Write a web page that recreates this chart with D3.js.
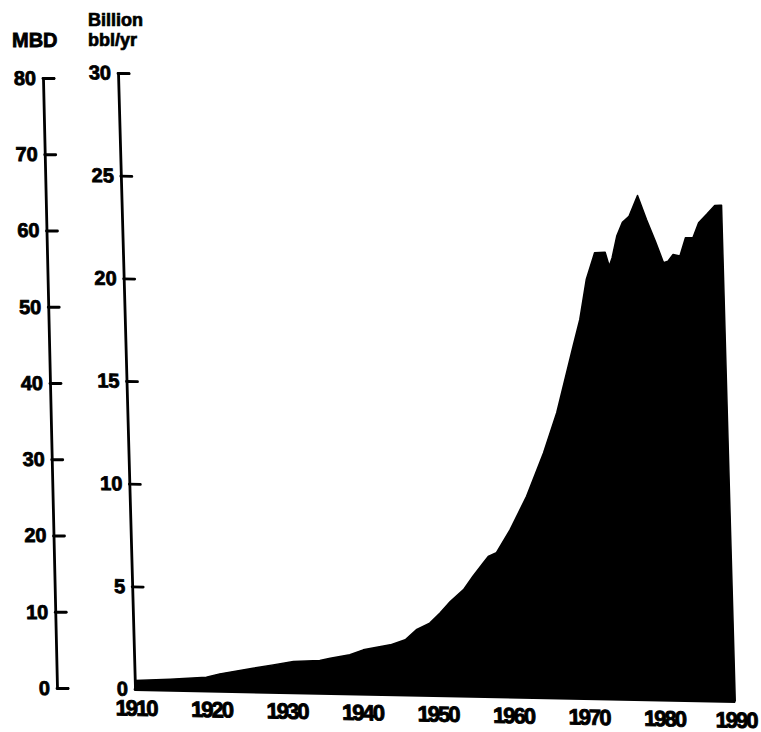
<!DOCTYPE html>
<html>
<head>
<meta charset="utf-8">
<script src="https://cdn.jsdelivr.net/npm/d3@7"></script>
<style>
  html, body { margin: 0; padding: 0; background: #fff; }
  svg { display: block; }
  text { font-family: "Liberation Sans", Arial, sans-serif; font-weight: bold; fill: #000; }
</style>
</head>
<body>
<svg id="chart" width="761" height="732"></svg>
<script>
// ---- data ----
// World crude oil production, billion barrels per year
const years = [1910, 1914.7, 1919.5, 1921.3, 1925.7, 1928.4, 1931.1, 1934.6, 1936.0, 1938.6,
  1940.4, 1944.0, 1946.0, 1947.5, 1949.3, 1950.7, 1952.1, 1953.9, 1955.2, 1956.6,
  1957.3, 1958.4, 1960.3, 1962.6, 1965.0, 1966.9, 1969.3, 1970.3, 1971.3, 1972.5,
  1973.9, 1974.4, 1974.8, 1975.5, 1976.3, 1977.2, 1978.4, 1979.5, 1980.6, 1981.6,
  1982.2, 1982.9, 1983.8, 1984.6, 1985.6, 1986.4, 1987.5, 1988.6, 1989.3, 1989.5];
const production = [0.42, 0.51, 0.64, 0.82, 1.13, 1.31, 1.49, 1.57, 1.69, 1.88,
  2.13, 2.40, 2.66, 3.16, 3.50, 4.00, 4.57, 5.16, 5.82, 6.48,
  6.80, 7.00, 8.13, 9.77, 11.9, 13.87, 17.12, 18.44, 20.39, 21.70,
  21.74, 21.07, 21.47, 22.54, 23.22, 23.52, 24.54, 23.38, 22.33, 21.29,
  21.37, 21.70, 21.63, 22.53, 22.54, 23.27, 23.69, 24.13, 24.14, 24.14];
const bblTicks = [0, 5, 10, 15, 20, 25, 30];
const mbdTicks = [0, 10, 20, 30, 40, 50, 60, 70, 80];
const yearTicks = [1910, 1920, 1930, 1940, 1950, 1960, 1970, 1980, 1990];

const svg = d3.select("#chart");

const x = d3.scaleLinear().domain([1910, 1990]).range([0, 604]);
const y = d3.scaleLinear().domain([0, 30]).range([0, -616]);
const yMbd = d3.scaleLinear().domain([0, 80]).range([0, -610]);

const pts = years.map((yr, i) => ({ yr, v: production[i] }));

// plot group (slightly sheared like the scanned original)
const g = svg.append("g").attr("transform", "matrix(1,0.02,0.0276,1,135,689)");

const area = d3.area()
  .x(d => x(d.yr))
  .y0(y(0))
  .y1(d => y(d.v))
  .curve(d3.curveLinear);

g.append("path")
  .datum(pts)
  .attr("d", area)
  .attr("fill", "#000")
  .attr("stroke", "#000")
  .attr("stroke-width", 1.5)
  .attr("stroke-linejoin", "round");

// baseline
g.append("line")
  .attr("x1", x(1910)).attr("x2", x(years[years.length - 1]))
  .attr("y1", y(0) + 0.5).attr("y2", y(0) + 0.5)
  .attr("stroke", "#000").attr("stroke-width", 3);

// right (billion bbl/yr) axis
const axR = g.append("g")
  .call(d3.axisLeft(y).tickValues(bblTicks).tickFormat(d3.format("d"))
    .tickSize(-11).tickPadding(7));
axR.selectAll("path, line").attr("stroke", "#000").attr("stroke-width", 2.8)
  .attr("stroke-linejoin", "round").attr("stroke-linecap", "round");
axR.selectAll("text").style("font-size", "20px").attr("stroke", "#000").attr("stroke-width", 0.8);

// x axis labels
const axX = g.append("g")
  .call(d3.axisBottom(x).tickValues(yearTicks).tickFormat(d3.format("d"))
    .tickSize(0).tickPadding(11));
axX.select(".domain").remove();
axX.selectAll("text").style("font-size", "22px").style("letter-spacing", "-2px")
  .attr("stroke", "#000").attr("stroke-width", 0.9);
axX.selectAll(".tick").filter(d => d === 1990).select("text").attr("dx", "-4");

// left (MBD) axis
const gl = svg.append("g").attr("transform", "matrix(1,0,0.023,1,57,688)");
const axL = gl.append("g")
  .call(d3.axisLeft(yMbd).tickValues(mbdTicks).tickFormat(d3.format("d"))
    .tickSize(-11).tickPadding(7));
axL.selectAll("path, line").attr("stroke", "#000").attr("stroke-width", 2.8)
  .attr("stroke-linejoin", "round").attr("stroke-linecap", "round");
axL.selectAll("text").style("font-size", "20px").attr("stroke", "#000").attr("stroke-width", 0.8);

// unit titles
svg.append("text").attr("x", 12).attr("y", 47).style("font-size", "20px")
  .attr("stroke", "#000").attr("stroke-width", 0.8).text("MBD");
svg.append("text").attr("x", 88).attr("y", 26).style("font-size", "18px")
  .attr("stroke", "#000").attr("stroke-width", 0.7).text("Billion");
svg.append("text").attr("x", 88).attr("y", 46).style("font-size", "18px")
  .attr("stroke", "#000").attr("stroke-width", 0.7).text("bbl/yr");
</script>
</body>
</html>
